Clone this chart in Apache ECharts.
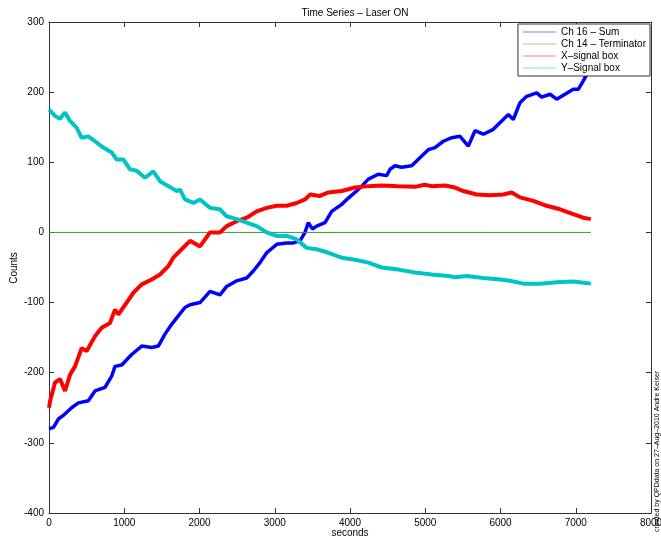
<!DOCTYPE html>
<html>
<head>
<meta charset="utf-8">
<script src="https://cdn.jsdelivr.net/npm/echarts@6/dist/echarts.min.js"></script>
<style>
  html, body { margin: 0; padding: 0; background: #fff; }
  #chart { width: 661px; height: 539px; }
</style>
</head>
<body>
<div id="chart"></div>
<script>
// seconds / counts
const seriesNames = ['Ch 16 – Sum', 'Ch 14 – Terminator', 'X–signal box', 'Y–Signal box'];

const sumTime = [0, 60, 124, 200, 300, 390, 523, 611, 744, 833, 877, 966, 1099, 1232, 1365, 1453, 1541, 1630, 1718, 1807,
  1874, 2007, 2140, 2272, 2361, 2494, 2627, 2715, 2804, 2893, 3026, 3159, 3247, 3336, 3402, 3446, 3500, 3557, 3668, 3757,
  3890, 3978, 4066, 4156, 4244, 4376, 4487, 4532, 4598, 4687, 4820, 4953, 5041, 5130, 5240, 5352, 5462, 5572, 5661, 5772,
  5904, 6016, 6104, 6170, 6259, 6348, 6481, 6547, 6658, 6747, 6857, 6967, 7034, 7100, 7145, 7200];
const sumVals = [-280, -278, -266, -260, -250, -243, -240, -226, -221, -205, -191, -189, -174, -162, -164, -162, -145, -131, -119, -107,
  -103, -100, -84, -89, -77, -69, -65, -55, -43, -29, -17, -15, -15, -12, 0, 14, 5, 9, 14, 30,
  40, 49, 57, 66, 76, 83, 81, 90, 95, 93, 95, 109, 118, 121, 130, 135, 137, 123, 145, 140,
  147, 159, 168, 161, 185, 194, 199, 193, 197, 190, 197, 204, 204, 216, 225, 228];

const termTime = [0, 7200];
const termVals = [0, 0];

const xsigTime = [0, 13, 80, 146, 213, 279, 346, 434, 501, 611, 700, 811, 877, 921, 1032, 1121, 1232, 1365, 1475, 1586,
  1652, 1763, 1874, 2007, 2140, 2272, 2361, 2494, 2627, 2760, 2893, 3026, 3159, 3292, 3402, 3468, 3601, 3712, 3890, 4066,
  4244, 4421, 4642, 4864, 4990, 5086, 5262, 5395, 5506, 5684, 5860, 6037, 6149, 6259, 6436, 6614, 6791, 6967, 7100, 7200];
const xsigVals = [-250, -241, -214, -209, -226, -203, -191, -165, -169, -148, -136, -129, -110, -117, -100, -86, -74, -67, -60, -48,
  -36, -24, -12, -20, 0, 0, 9, 16, 21, 30, 35, 38, 38, 42, 47, 54, 52, 57, 59, 64,
  66, 67, 66, 65, 68, 66, 67, 64, 59, 54, 53, 54, 57, 50, 45, 38, 33, 26, 21, 19];

const ysigTime = [0, 13, 80, 146, 213, 279, 368, 434, 523, 611, 722, 833, 899, 988, 1076, 1165, 1276, 1386, 1475, 1586,
  1697, 1741, 1807, 1918, 2007, 2140, 2272, 2361, 2494, 2627, 2760, 2893, 3026, 3159, 3292, 3424, 3557, 3712, 3890, 4066,
  4244, 4421, 4642, 4864, 5086, 5307, 5395, 5551, 5772, 5993, 6126, 6303, 6525, 6747, 6967, 7200];
const ysigVals = [175, 173, 166, 162, 171, 159, 149, 135, 137, 130, 121, 114, 104, 104, 90, 88, 78, 87, 73, 66,
  59, 61, 47, 42, 47, 35, 33, 23, 19, 14, 9, 0, -5, -5, -10, -22, -24, -29, -36, -39,
  -43, -50, -53, -57, -60, -62, -64, -62, -65, -67, -69, -73, -73, -71, -70, -73];

const seriesColors = ['#0000ff', '#2ca02c', '#ff0000', '#00c4c4'];
const xTicks = { min: 0, max: 8000, interval: 1000 };
const yTicks = { min: -400, max: 300, interval: 100 };

function zip(ts, vs) {
  return ts.map((t, i) => [t, vs[i]]);
}

const chart = echarts.init(document.getElementById('chart'));

const baseFont = 'Liberation Sans, Arial, sans-serif';

function mkSeries(i, data, width) {
  return {
    name: seriesNames[i],
    type: 'line',
    data: data,
    showSymbol: false,
    symbol: 'none',
    lineStyle: { color: seriesColors[i], width: width },
    itemStyle: { color: seriesColors[i] },
    emphasis: { disabled: true }
  };
}

const option = {
  animation: false,
  backgroundColor: '#fff',
  textStyle: { fontFamily: baseFont },
  title: {
    text: 'Time Series – Laser ON',
    left: 350,
    textAlign: 'center',
    top: 3,
    textStyle: { fontSize: 10, fontWeight: 'normal', color: '#000', fontFamily: baseFont }
  },
  legend: {
    orient: 'vertical',
    right: 11,
    top: 24,
    backgroundColor: '#fff',
    borderColor: '#333',
    borderWidth: 1,
    padding: [3, 4, 3, 5],
    itemGap: 2,
    itemWidth: 33,
    itemHeight: 1,
    icon: 'rect',
    textStyle: { fontSize: 10, color: '#000', fontFamily: baseFont },
    data: seriesNames.map((n, i) => ({
      name: n,
      itemStyle: { color: seriesColors[i], opacity: 0.5 }
    }))
  },
  grid: { left: 49, right: 10, top: 22, bottom: 26, outerBoundsMode: 'none', containLabel: false },
  xAxis: [{
    type: 'value',
    min: xTicks.min, max: xTicks.max, interval: xTicks.interval,
    axisLine: { show: true, onZero: false, lineStyle: { color: '#333', width: 1 } },
    axisTick: { show: true, inside: true, length: 5, lineStyle: { color: '#333' } },
    axisLabel: { fontSize: 10, color: '#000', margin: 5, formatter: v => String(v) },
    splitLine: { show: false }
  }, {
    type: 'value',
    position: 'top',
    min: xTicks.min, max: xTicks.max, interval: xTicks.interval,
    axisLine: { show: true, onZero: false, lineStyle: { color: '#333', width: 1 } },
    axisTick: { show: true, inside: true, length: 5, lineStyle: { color: '#333' } },
    axisLabel: { show: false },
    splitLine: { show: false }
  }],
  yAxis: [{
    type: 'value',
    min: yTicks.min, max: yTicks.max, interval: yTicks.interval,
    axisLine: { show: true, onZero: false, lineStyle: { color: '#333', width: 1 } },
    axisTick: { show: true, inside: true, length: 5, lineStyle: { color: '#333' } },
    axisLabel: { fontSize: 10, color: '#000', margin: 5, formatter: v => String(v) },
    splitLine: { show: false }
  }, {
    type: 'value',
    position: 'right',
    min: yTicks.min, max: yTicks.max, interval: yTicks.interval,
    axisLine: { show: true, onZero: false, lineStyle: { color: '#333', width: 1 } },
    axisTick: { show: true, inside: true, length: 5, lineStyle: { color: '#333' } },
    axisLabel: { show: false },
    splitLine: { show: false }
  }],
  series: [
    mkSeries(0, zip(sumTime, sumVals), 3.5),
    mkSeries(1, zip(termTime, termVals), 1),
    mkSeries(2, zip(xsigTime, xsigVals), 4),
    mkSeries(3, zip(ysigTime, ysigVals), 4)
  ],
  graphic: [{
    type: 'text',
    x: 350,
    y: 533,
    style: {
      text: 'seconds',
      fill: '#000',
      font: '10px ' + baseFont,
      textAlign: 'center',
      textVerticalAlign: 'middle'
    }
  }, {
    type: 'text',
    x: 14,
    y: 268,
    rotation: Math.PI / 2,
    style: {
      text: 'Counts',
      fill: '#000',
      font: '10px ' + baseFont,
      textAlign: 'center',
      textVerticalAlign: 'middle'
    }
  }, {
    type: 'text',
    x: 657,
    y: 532,
    rotation: Math.PI / 2,
    style: {
      text: 'created by QPDdata on 27–Aug–2010 Andre Keiser',
      fill: '#000',
      font: '7px ' + baseFont,
      textAlign: 'left',
      textVerticalAlign: 'middle'
    }
  }]
};

chart.setOption(option);
</script>
</body>
</html>
